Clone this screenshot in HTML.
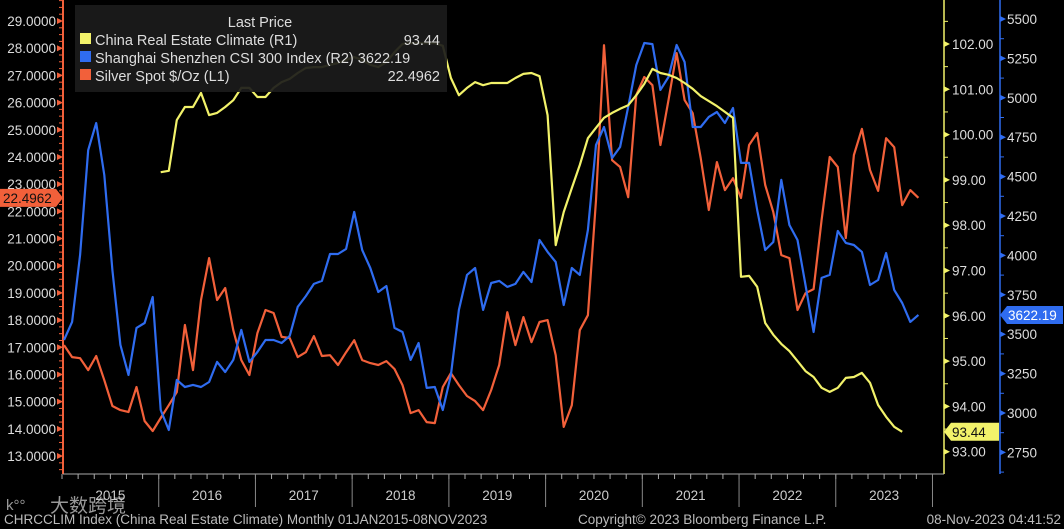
<!DOCTYPE html>
<html><head><meta charset="utf-8"><style>
html,body{margin:0;padding:0;background:#000;width:1064px;height:529px;overflow:hidden}
svg{display:block;font-family:"Liberation Sans","Noto Sans CJK SC",sans-serif}
</style></head><body>
<svg id="chart" width="1064" height="529" viewBox="0 0 1064 529" xmlns="http://www.w3.org/2000/svg">
<rect x="0" y="0" width="1064" height="529" fill="#000"/>
<g id="axes"></g>
<g id="series"></g>
<g id="legend">
  <rect x="75" y="5" width="372" height="87" fill="#1b1b1b" opacity="0.92"/>
  <text x="260" y="27" fill="#ddd" font-size="14.5" text-anchor="middle">Last Price</text>
  <g>
    <rect x="80" y="33" width="11" height="11" fill="#f2f26a"/>
    <text x="95" y="45" fill="#ddd" font-size="14.5">China Real Estate Climate  (R1)</text>
    <text x="440" y="45" fill="#ddd" font-size="14.5" text-anchor="end">93.44</text>
  </g>
  <g>
    <rect x="80" y="51" width="11" height="11" fill="#2f6cf0"/>
    <text x="95" y="63" fill="#ddd" font-size="14.5">Shanghai Shenzhen CSI 300 Index  (R2) 3622.19</text>
  </g>
  <g>
    <rect x="80" y="69" width="11" height="11" fill="#f2603a"/>
    <text x="95" y="81" fill="#ddd" font-size="14.5">Silver Spot $/Oz  (L1)</text>
    <text x="440" y="81" fill="#ddd" font-size="14.5" text-anchor="end">22.4962</text>
  </g>
</g>
<g id="footer">
  <text x="4" y="524" fill="#bbb" font-size="13.5">CHRCCLIM Index (China Real Estate Climate)  Monthly 01JAN2015-08NOV2023</text>
  <text x="578" y="524" fill="#bbb" font-size="13.5">Copyright© 2023 Bloomberg Finance L.P.</text>
  <text x="1061" y="524" fill="#bbb" font-size="13.5" text-anchor="end">08-Nov-2023 04:41:52</text>
  <text x="50" y="512" fill="#ccc" opacity="0.75" font-size="19">大数跨境</text>
  <text x="6" y="510" fill="#ccc" opacity="0.75" font-size="15">k°°</text>
</g>
</svg>
<script>
const years = ["2015","2016","2017","2018","2019","2020","2021","2022","2023"];
const silver = [17.08,16.64,16.60,16.16,16.68,15.79,14.84,14.69,14.62,15.54,14.29,13.92,
14.40,14.87,15.35,17.82,16.16,18.74,20.28,18.74,19.18,17.63,16.53,15.98,
17.52,18.37,18.26,17.38,17.34,16.64,16.82,17.41,16.68,16.71,16.35,16.82,
17.26,16.53,16.42,16.35,16.49,16.20,15.61,14.58,14.69,14.25,14.21,15.54,
16.05,15.61,15.21,15.02,14.69,15.43,16.35,18.29,17.08,18.11,17.19,17.93,
18.00,16.71,14.07,14.87,17.63,18.18,22.41,28.11,23.88,23.63,22.52,26.28,
26.94,26.64,24.44,26.09,27.82,26.09,25.61,23.96,22.05,23.81,22.78,23.22,
22.49,24.44,24.88,22.97,21.97,20.39,20.28,18.37,18.99,19.14,21.68,24.00,
23.63,21.02,24.07,25.03,23.52,22.75,24.69,24.36,22.23,22.78,22.4962];
const csi300 = [3463,3578,4003,4669,4840,4510,3907,3432,3241,3540,3571,3736,
3019,2892,3210,3165,3178,3165,3197,3324,3260,3337,3527,3324,
3387,3463,3463,3444,3489,3673,3742,3819,3838,4009,4009,4041,
4276,4034,3920,3768,3806,3540,3514,3337,3444,3159,3165,3019,
3241,3654,3876,3920,3654,3825,3838,3800,3819,3895,3831,4098,
4022,3958,3685,3920,3876,4161,4701,4815,4618,4688,4942,5208,
5348,5341,5050,5132,5335,5227,4815,4815,4879,4910,4840,4935,
4587,4587,4288,4034,4085,4479,4193,4098,3812,3514,3857,3876,
4155,4079,4066,4022,3812,3844,4015,3781,3698,3578,3622.19];
const climate = [null,null,null,null,null,null,null,null,null,null,null,null,
99.17,99.20,100.32,100.61,100.61,100.92,100.43,100.48,100.61,100.76,101.03,101.03,
100.83,100.83,101.03,101.16,101.23,101.36,101.47,101.49,101.49,101.54,101.58,101.65,
101.71,101.65,101.54,101.49,101.60,101.82,102.00,102.02,102.02,102.02,102.02,101.96,
101.25,100.87,101.03,101.16,101.09,101.14,101.14,101.14,101.25,101.34,101.36,101.29,
100.43,97.56,98.29,98.82,99.33,99.92,100.15,100.37,100.48,100.57,100.65,100.87,
101.12,101.45,101.36,101.32,101.25,101.14,101.01,100.85,100.74,100.63,100.50,100.37,
96.86,96.88,96.64,95.84,95.58,95.38,95.22,95.00,94.78,94.65,94.41,94.32,
94.41,94.63,94.65,94.74,94.52,94.03,93.77,93.55,93.44,null,null];
const leftTicks = [29,28,27,26,25,24,23,22,21,20,19,18,17,16,15,14,13];
const r1Ticks = [102,101,100,99,98,97,96,95,94,93];
const r2Ticks = [5500,5250,5000,4750,4500,4250,4000,3750,3500,3250,3000,2750];

const NS="http://www.w3.org/2000/svg";
function mk(tag,attrs,parent){const e=document.createElementNS(NS,tag);for(const k in attrs)e.setAttribute(k,attrs[k]);parent.appendChild(e);return e;}
const xM = i => 64 + i*8.06;
const yL = v => 21 + (29 - v)*27.19;
const yR1 = v => 44 + (102 - v)*45.3;
const yR2 = v => 19 + (5500 - v)/250*39.4;
const axes=document.getElementById('axes'), ser=document.getElementById('series');

let la=mk('line',{x1:63,y1:0,x2:63,y2:474,stroke:'#f2603a','stroke-width':2},axes);


for(let v=29.75; v>=12.5; v-=0.25){const y=yL(v); if(y<0||y>474) continue; mk('line',{x1:59,y1:y,x2:63,y2:y,stroke:'#f2603a','stroke-width':1},axes);}
leftTicks.forEach(v=>{const y=yL(v);
 mk('polygon',{points:`57,${y-3} 63,${y} 57,${y+3}`,fill:'#f2603a'},axes);
 const t=mk('text',{x:56,y:y+5,fill:'#ddd','font-size':13.5,'text-anchor':'end'},axes);t.textContent=v.toFixed(4);
 
 });
let r1=mk('line',{x1:944,y1:0,x2:944,y2:474,stroke:'#f2f26a','stroke-width':1.5},axes);


for(let v=102.5; v>=92.5; v-=0.5){const y=yR1(v); if(y<0||y>474) continue; mk('line',{x1:944,y1:y,x2:948,y2:y,stroke:'#f2f26a','stroke-width':1},axes);}
r1Ticks.forEach(v=>{const y=yR1(v);
 mk('polygon',{points:`944,${y-3} 950,${y} 944,${y+3}`,fill:'#f2f26a'},axes);
 const t=mk('text',{x:952,y:y+5,fill:'#ddd','font-size':13.5},axes);t.textContent=v.toFixed(2);
 
 });
let r2=mk('line',{x1:1000,y1:0,x2:1000,y2:474,stroke:'#2f6cf0','stroke-width':1.5},axes);


for(let v=5625; v>=2625; v-=125){const y=yR2(v); if(y<0||y>474) continue; mk('line',{x1:1000,y1:y,x2:1004,y2:y,stroke:'#2f6cf0','stroke-width':1},axes);}
r2Ticks.forEach(v=>{const y=yR2(v);
 mk('polygon',{points:`1000,${y-3} 1006,${y} 1000,${y+3}`,fill:'#2f6cf0'},axes);
 const t=mk('text',{x:1007,y:y+5,fill:'#ddd','font-size':13.5},axes);t.textContent=String(v);
 
 });
let xa=mk('line',{x1:63,y1:474,x2:944,y2:474,stroke:'#aaa','stroke-width':1},axes);


for(let i=0;i<=108;i+=2){const x=xM(i)-2; if(x>944) break; mk('line',{x1:x,y1:474,x2:x,y2:479,stroke:'#aaa','stroke-width':1},axes);}
years.forEach((yr,k)=>{
 const x0=xM(k*12)-2, x1=xM((k+1)*12)-2;
 if(k>0) mk('line',{x1:x0,y1:474,x2:x0,y2:507,stroke:'#888','stroke-width':1},axes);
 const t=mk('text',{x:(x0+x1)/2,y:500,fill:'#ccc','font-size':13.5,'text-anchor':'middle'},axes);t.textContent=yr;
 
 });
mk('line',{x1:xM(108)-2,y1:474,x2:xM(108)-2,y2:507,stroke:'#888','stroke-width':1},axes);

function line(data,yf,color,name){
 let d='',pen=false;
 data.forEach((v,i)=>{ if(v===null){pen=false;return;} d+=(pen?'L':'M')+xM(i).toFixed(1)+','+yf(v).toFixed(1)+' '; pen=true;});
 const p=mk('path',{d:d,fill:'none',stroke:color,'stroke-width':2.2,'stroke-linejoin':'round'},ser);
 
 
}
line(silver,yL,'#f2603a','silver-spot-line');
line(csi300,yR2,'#2f6cf0','csi300-line');
line(climate,yR1,'#f2f26a','china-real-estate-climate-line');

const ls=silver[silver.length-1];
let y=yL(ls);
let g=mk('g',{},axes);


mk('polygon',{points:`0,${y-9} 56,${y-9} 63,${y} 56,${y+9} 0,${y+9}`,fill:'#f2603a'},g);
let t=mk('text',{x:3,y:y+5,fill:'#111','font-size':13.5},g);t.textContent=ls.toFixed(4);
let lc=null; climate.forEach(v=>{if(v!==null) lc=v;});
y=yR1(lc);
g=mk('g',{},axes);


mk('polygon',{points:`944,${y} 951,${y-9} 999,${y-9} 999,${y+9} 951,${y+9}`,fill:'#f2f26a'},g);
t=mk('text',{x:952,y:y+5,fill:'#111','font-size':13.5},g);t.textContent=lc.toFixed(2);
const lb=csi300[csi300.length-1];
y=yR2(lb);
g=mk('g',{},axes);


mk('polygon',{points:`1000,${y} 1007,${y-9} 1063,${y-9} 1063,${y+9} 1007,${y+9}`,fill:'#2f6cf0'},g);
t=mk('text',{x:1008,y:y+5,fill:'#fff','font-size':13.5},g);t.textContent=lb.toFixed(2);
</script>
</body></html>
